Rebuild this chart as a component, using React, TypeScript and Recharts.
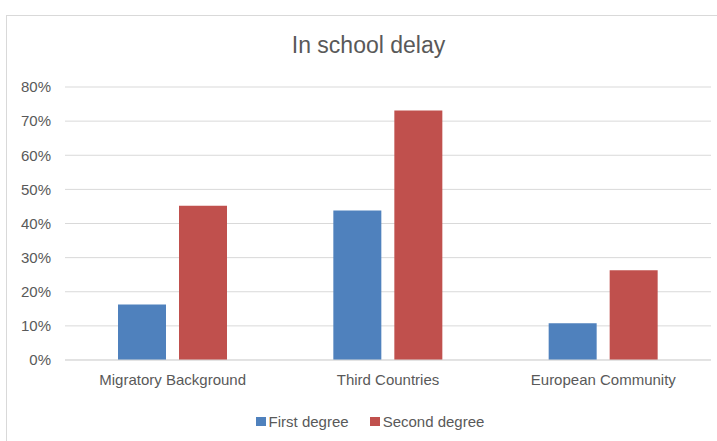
import React from 'react';
import { BarChart, Bar, XAxis, YAxis, CartesianGrid } from 'recharts';

// Share of pupils behind in school, by origin group
const categories = ['Migratory Background', 'Third Countries', 'European Community'];
const firstDegree = [0.163, 0.438, 0.108];
const secondDegree = [0.452, 0.731, 0.263];
const yTicks = [0, 0.1, 0.2, 0.3, 0.4, 0.5, 0.6, 0.7, 0.8];

const series = [
  { key: 'first', name: 'First degree', color: '#4F81BD' },
  { key: 'second', name: 'Second degree', color: '#C0504D' },
];

const data = categories.map((name, i) => ({
  name,
  first: firstDegree[i],
  second: secondDegree[i],
}));

const FONT = "'Liberation Sans Narrow', 'Arial Narrow', 'Liberation Sans', Arial, sans-serif";
const TEXT = '#595959';

const pct = (v: number) => `${Math.round(v * 100)}%`;

const App: React.FC = () => {
  return (
    <div style={{ position: 'absolute', left: 0, top: 0, width: 717, height: 441, background: '#fff', overflow: 'hidden', fontFamily: FONT }}>
      {/* outer chart frame */}
      <div style={{ position: 'absolute', left: 6, top: 15, width: 740, height: 460, border: '1px solid #d9d9d9' }} />
      <div style={{ position: 'absolute', left: 0, width: 737, top: 32, textAlign: 'center', fontSize: 23, color: TEXT }}>
        In school delay
      </div>
      <BarChart
        width={717}
        height={441}
        data={data}
        margin={{ top: 87, right: 6, bottom: 51, left: 0 }}
        barSize={48}
        barGap={13}
        style={{ position: 'absolute', left: 0, top: 0 }}
      >
        <CartesianGrid vertical={false} stroke="#d9d9d9" />
        <XAxis
          dataKey="name"
          height={30}
          axisLine={{ stroke: '#d9d9d9' }}
          tickLine={false}
          tickSize={0}
          tickMargin={14}
          tick={{ fill: TEXT, fontSize: 15, fontFamily: FONT }}
        />
        <YAxis
          width={65}
          domain={[0, 0.8]}
          ticks={yTicks}
          tickFormatter={pct}
          axisLine={false}
          tickLine={false}
          tickSize={0}
          tickMargin={14}
          tick={{ fill: TEXT, fontSize: 15, fontFamily: FONT }}
        />
        {series.map((s) => (
          <Bar key={s.key} dataKey={s.key} name={s.name} fill={s.color} isAnimationActive={false} />
        ))}
      </BarChart>
      <div style={{ position: 'absolute', left: 0, width: 717, top: 413, display: 'flex', justifyContent: 'center', paddingLeft: 23, boxSizing: 'border-box', fontSize: 15, color: TEXT }}>
        {series.map((s, i) => (
          <div key={s.key} style={{ display: 'flex', alignItems: 'center', marginLeft: i ? 21 : 0 }}>
            <span style={{ display: 'inline-block', width: 10, height: 9, background: s.color, marginRight: 3 }} />
            <span>{s.name}</span>
          </div>
        ))}
      </div>
    </div>
  );
};

export default App;
